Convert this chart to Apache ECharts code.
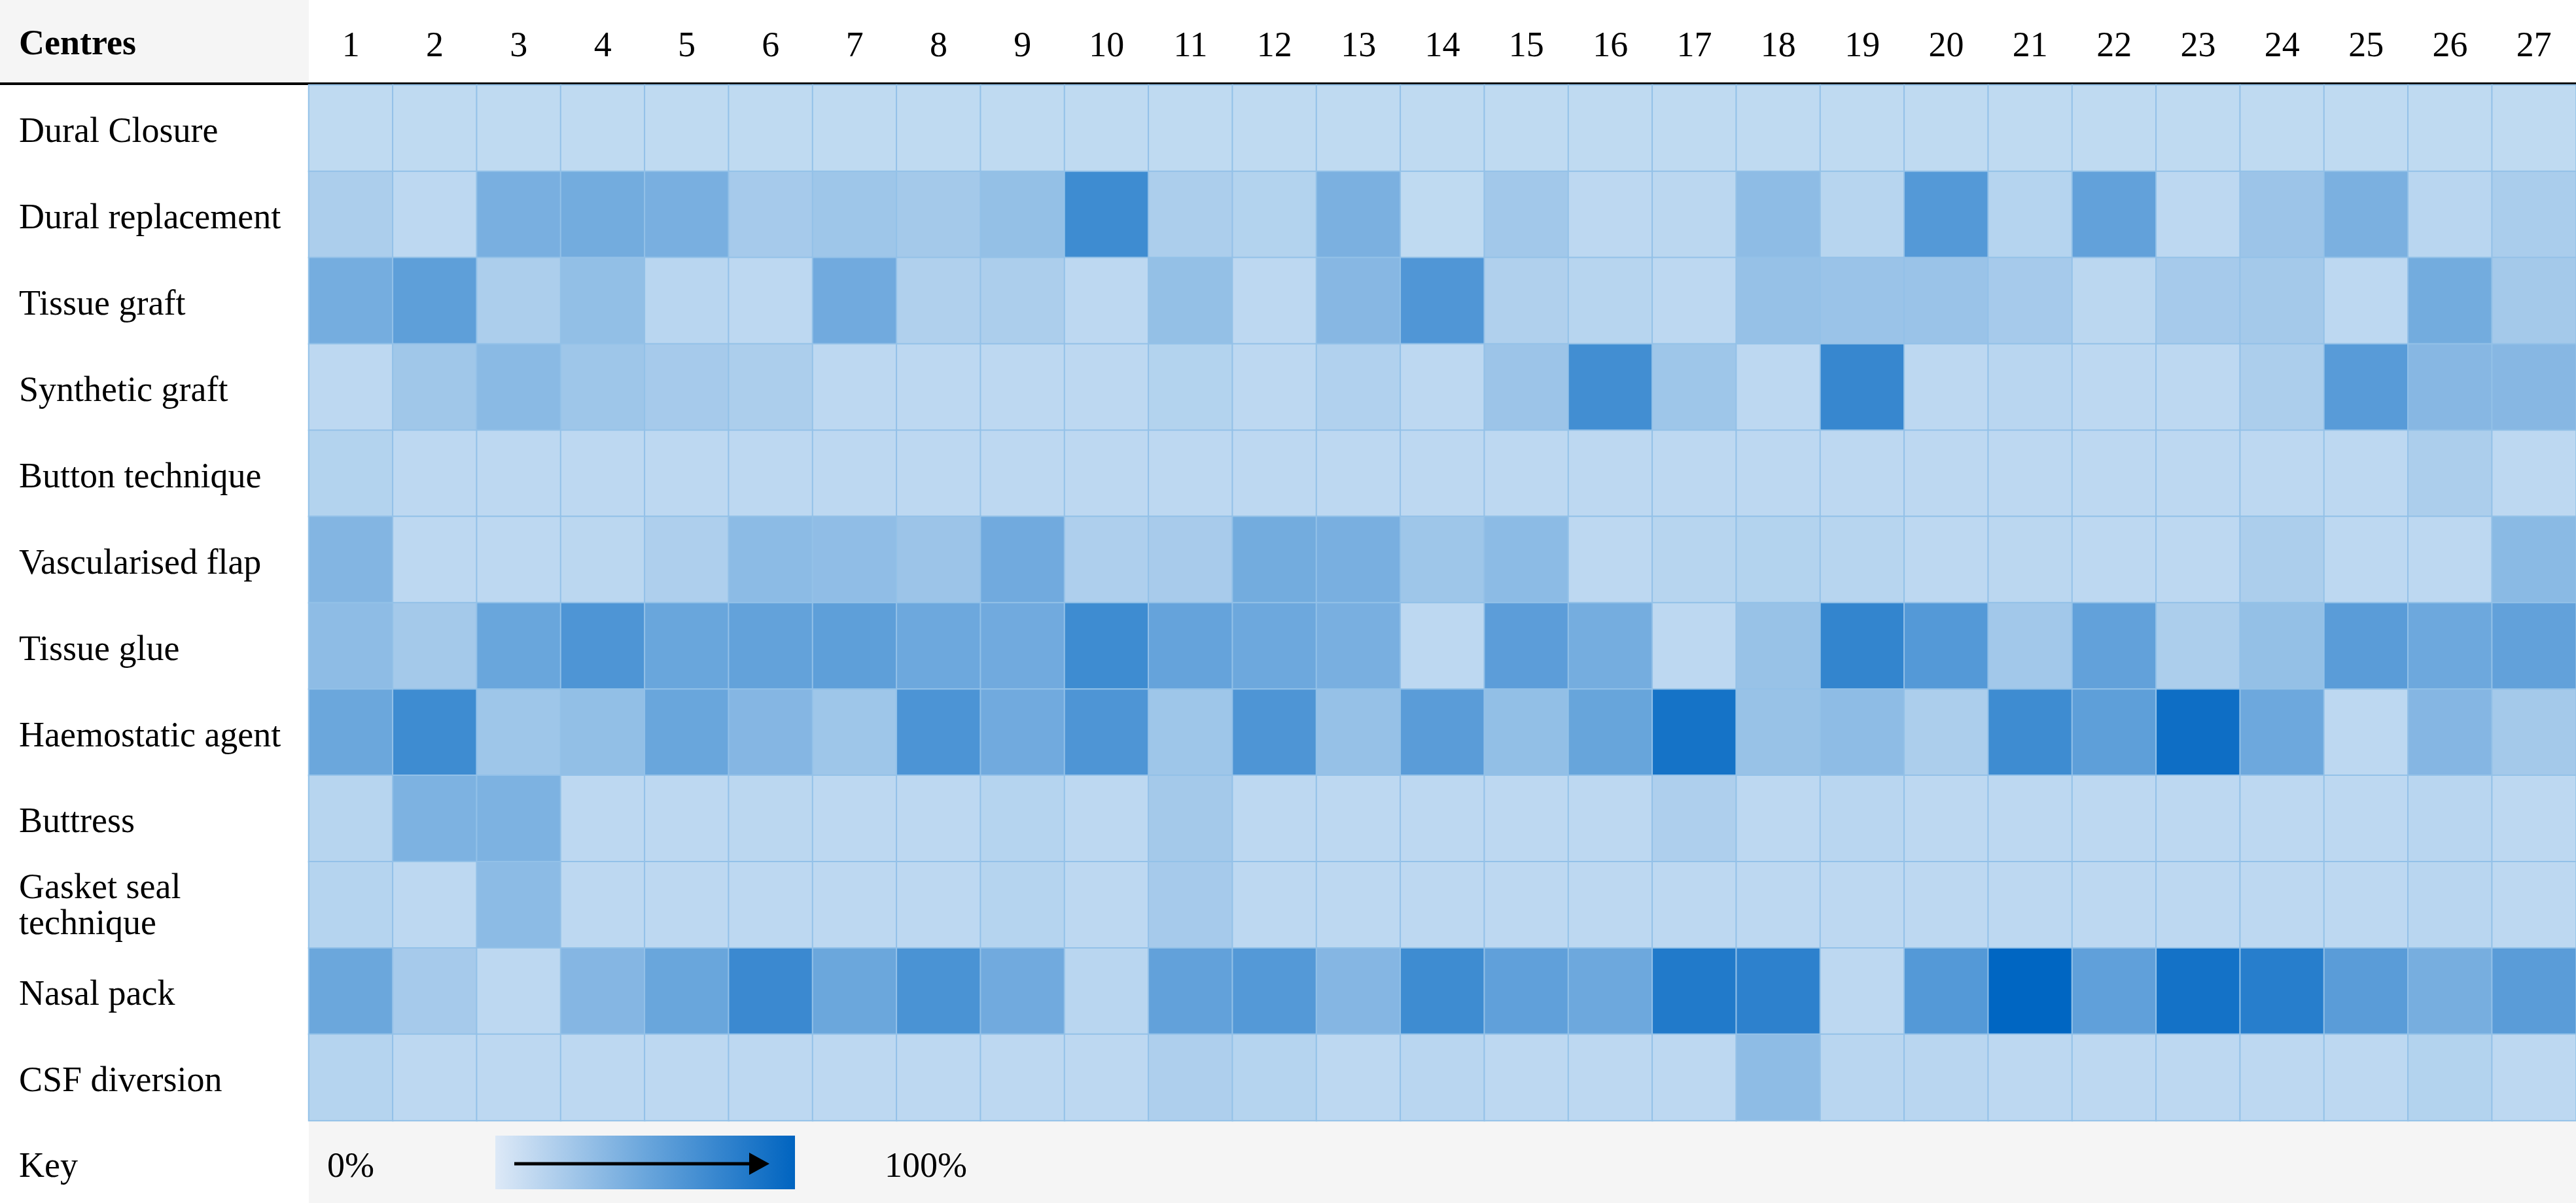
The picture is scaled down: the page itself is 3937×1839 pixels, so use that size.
<!DOCTYPE html>
<html>
<head>
<meta charset="utf-8">
<script src="https://cdn.jsdelivr.net/npm/echarts@6/dist/echarts.min.js"></script>
<style>
html,body{margin:0;padding:0;background:#fff;}
#chart{width:3937px;height:1839px;}
</style>
</head>
<body>
<div id="chart"></div>
<script>
const centres = ['1','2','3','4','5','6','7','8','9','10','11','12','13','14','15','16','17','18','19','20','21','22','23','24','25','26','27'];
const techniques = ['Dural Closure','Dural replacement','Tissue graft','Synthetic graft','Button technique','Vascularised flap','Tissue glue','Haemostatic agent','Buttress','Gasket seal\ntechnique','Nasal pack','CSF diversion'];

const duralClosure      = [2,2,2,2,2,2,2,2,2,2,2,2,2,2,2,2,2,2,2,2,2,2,2,2,2,2,2];
const duralReplacement  = [12,3,38,41,38,15,19,16,24,68,12,8,37,2,17,3,4,27,6,57,7,50,3,20,37,5,13];
const tissueGraft       = [40,52,12,25,5,3,42,10,12,3,24,3,31,59,10,6,3,23,21,21,15,4,15,16,3,41,16];
const syntheticGraft    = [3,18,29,19,15,12,3,3,3,3,8,3,9,3,20,66,19,3,72,3,5,3,3,12,55,31,31];
const buttonTechnique   = [8,3,3,3,3,3,3,3,3,3,3,3,3,3,3,3,3,3,3,3,3,3,3,3,3,12,3];
const vascularisedFlap  = [33,3,3,4,11,28,26,20,42,11,14,41,38,19,28,3,6,8,6,3,4,3,3,12,3,3,29];
const tissueGlue        = [27,16,46,60,46,49,52,44,42,68,48,44,38,3,53,40,3,22,74,57,17,50,12,24,54,44,50];
const haemostaticAgent  = [45,68,19,25,46,32,19,61,42,60,19,60,23,54,25,47,89,22,27,12,68,52,93,44,3,32,16];
const buttress          = [6,36,36,3,3,4,3,3,7,3,16,3,3,3,3,3,11,3,5,3,3,3,3,3,3,5,3];
const gasketSeal        = [7,3,28,3,3,3,3,3,7,3,15,3,3,3,3,3,3,3,3,3,3,3,3,3,3,5,3];
const nasalPack         = [45,15,3,32,46,70,45,62,42,5,50,57,32,68,51,44,83,77,3,57,100,51,90,80,54,39,54];
const csfDiversion      = [7,3,3,3,3,3,3,3,3,3,11,7,3,5,3,3,3,27,5,5,3,3,3,3,3,8,3];

const keyLabels = ['0%','100%'];

const rows = [duralClosure,duralReplacement,tissueGraft,syntheticGraft,buttonTechnique,vascularisedFlap,tissueGlue,haemostaticAgent,buttress,gasketSeal,nasalPack,csfDiversion];
const data = [];
rows.forEach((r, yi) => r.forEach((v, xi) => data.push([xi, yi, v])));

const FONT = '"Liberation Serif", "Times New Roman", serif';
const FS = 54;
const chart = echarts.init(document.getElementById('chart'));
chart.setOption({
  backgroundColor: '#ffffff',
  animation: false,
  grid: {left: 472, right: 0, top: 130, bottom: 126},
  xAxis: {
    type: 'category', position: 'top', data: centres,
    axisLine: {show: false}, axisTick: {show: false}, splitLine: {show: false},
    axisLabel: {fontFamily: FONT, fontSize: FS, color: '#000', margin: 58, verticalAlign: 'middle'}
  },
  yAxis: {
    type: 'category', data: techniques, inverse: true,
    axisLine: {show: false}, axisTick: {show: false}, splitLine: {show: false},
    axisLabel: {
      fontFamily: FONT, fontSize: FS, color: '#000', align: 'left', margin: 443,
      formatter: function (v) {
        const p = v.split('\n');
        return '{t|' + p[0] + '}' + (p.length > 1 ? '\n{u|' + p[1] + '}' : '');
      },
      rich: {
        t: {fontFamily: FONT, fontSize: FS, color: '#000', lineHeight: 62, padding: [14, 0, 0, 0]},
        u: {fontFamily: FONT, fontSize: FS, color: '#000', lineHeight: 62}
      }
    }
  },
  visualMap: {
    show: false, min: 0, max: 100, dimension: 2,
    inRange: {color: ['#c3dcf2', '#0066c2']}
  },
  series: [{
    type: 'heatmap', data: data,
    itemStyle: {borderColor: '#93c1e8', borderWidth: 2},
    emphasis: {disabled: true}
  }],
  graphic: [
    {type: 'rect', z: -1, shape: {x: 0, y: 0, width: 472, height: 126}, style: {fill: '#f5f5f5'}},
    {type: 'text', x: 29, y: 69, style: {text: 'Centres', font: 'bold ' + FS + 'px ' + FONT, fill: '#000', verticalAlign: 'middle'}},
    {type: 'line', shape: {x1: 0, y1: 128, x2: 3937, y2: 128}, style: {stroke: '#000', lineWidth: 4}},
    {type: 'rect', z: -1, shape: {x: 472, y: 1713, width: 3465, height: 126}, style: {fill: '#f5f5f5'}},
    {type: 'text', x: 29, y: 1785, style: {text: 'Key', font: FS + 'px ' + FONT, fill: '#000', verticalAlign: 'middle'}},
    {type: 'text', x: 500, y: 1785, style: {text: keyLabels[0], font: FS + 'px ' + FONT, fill: '#000', verticalAlign: 'middle'}},
    {type: 'text', x: 1352, y: 1785, style: {text: keyLabels[1], font: FS + 'px ' + FONT, fill: '#000', verticalAlign: 'middle'}},
    {type: 'rect', shape: {x: 757, y: 1736, width: 458, height: 82},
      style: {fill: new echarts.graphic.LinearGradient(0, 0, 1, 0, [{offset: 0, color: '#dde9f7'}, {offset: 0.5, color: '#6aa6dc'}, {offset: 1, color: '#0064c0'}])}},
    {type: 'line', shape: {x1: 786, y1: 1779, x2: 1150, y2: 1779}, style: {stroke: '#000', lineWidth: 5}},
    {type: 'polygon', shape: {points: [[1145, 1762], [1176, 1779], [1145, 1796]]}, style: {fill: '#000'}}
  ]
});
</script>
</body>
</html>
